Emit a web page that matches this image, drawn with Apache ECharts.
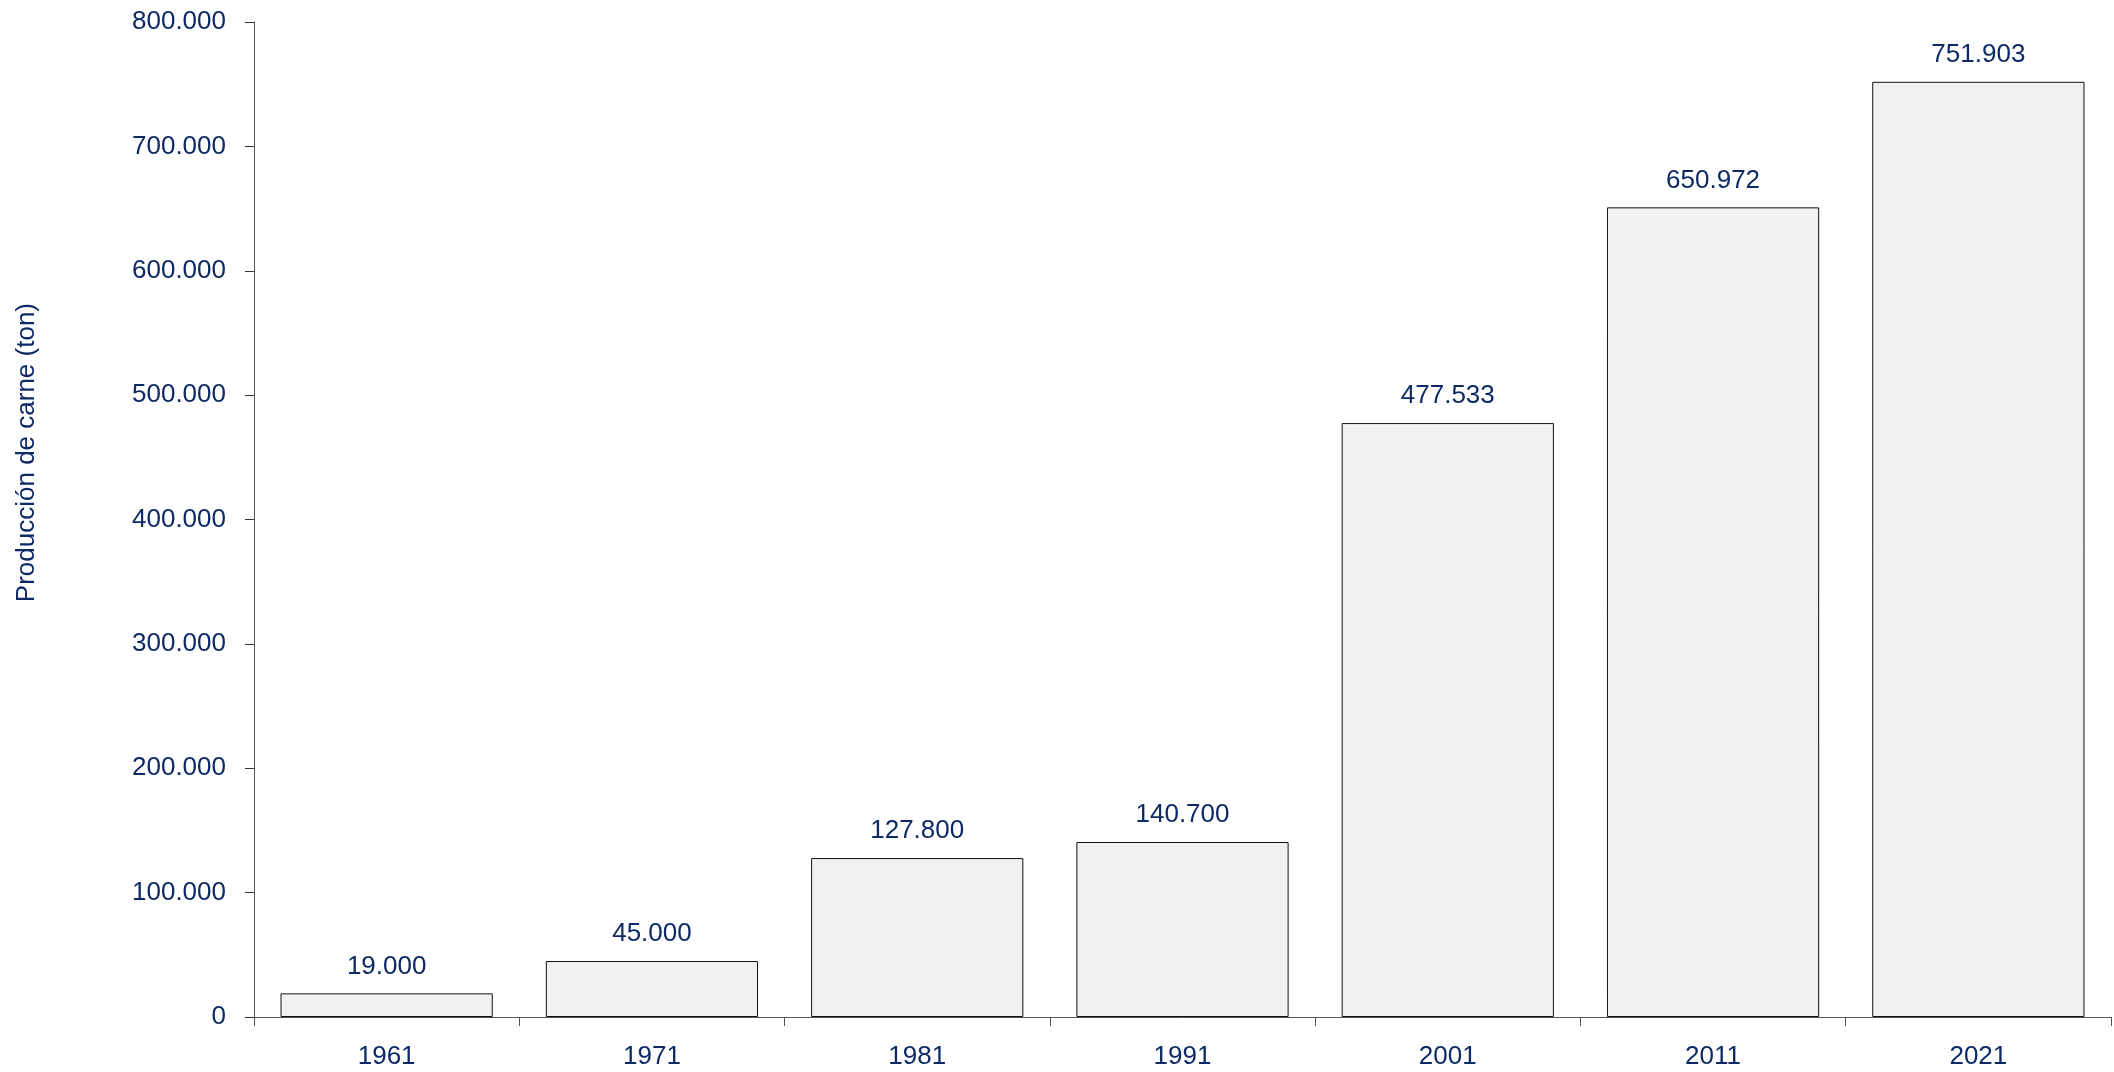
<!DOCTYPE html>
<html><head><meta charset="utf-8">
<script src="https://cdn.jsdelivr.net/npm/echarts@6/dist/echarts.min.js"></script>
<style>html,body{margin:0;padding:0;background:#fff}#c{width:2114px;height:1072px}</style>
</head><body><div id="c"></div>
<script>
const categories = ['1961','1971','1981','1991','2001','2011','2021'];
const production = [19000, 45000, 127800, 140700, 477533, 650972, 751903];
const yTitle = 'Producción de carne (ton)';

function fmt(v){ return String(Math.round(v)).replace(/\B(?=(\d{3})+(?!\d))/g, '.'); }
const navy = '#0d2a66';
const chart = echarts.init(document.getElementById('c'));
chart.setOption({
  animation:false,
  backgroundColor:'#fff',
  grid:{left:254,right:3,top:22,bottom:55,containLabel:false},
  xAxis:{
    type:'category', data:categories,
    axisLine:{lineStyle:{color:'#555',width:1}},
    axisTick:{show:true,length:9,alignWithLabel:false,lineStyle:{color:'#555'}},
    axisLabel:{color:navy,fontSize:26,fontFamily:'Liberation Sans',margin:27}
  },
  yAxis:{
    type:'value', min:0, max:800000, interval:100000,
    axisLine:{show:true,lineStyle:{color:'#555',width:1}},
    axisTick:{show:true,length:9,lineStyle:{color:'#333'}},
    splitLine:{show:false},
    axisLabel:{color:navy,fontSize:26,fontFamily:'Liberation Sans',margin:28,formatter:fmt}
  },
  graphic:[{
    type:'text', left:14, top:303, rotation:Math.PI/2,
    style:{text:yTitle, fill:navy, font:'26px "Liberation Sans"'}
  }],
  series:[{
    type:'bar', data:production, barWidth:'80%',
    itemStyle:{color:'#f1f1f1',borderColor:'#111',borderWidth:1},
    label:{show:true,position:'top',distance:14,color:navy,fontSize:26,fontFamily:'Liberation Sans',formatter:p=>fmt(p.value)}
  }]
});
</script></body></html>
